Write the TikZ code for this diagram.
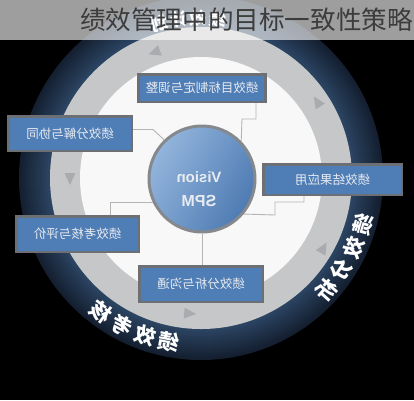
\documentclass[tikz,border=0pt]{standalone}
\usepackage{fontspec}
\usepackage{graphicx}
\newfontfamily\cjk{Noto Sans CJK SC}
\newfontfamily\arial{Liberation Sans}
\usetikzlibrary{calc}
\definecolor{navyin}{HTML}{2C4563}
\definecolor{navyout}{HTML}{141F30}
\definecolor{ringgray}{HTML}{C6C7C9}
\definecolor{tri}{HTML}{A9ABAE}
\definecolor{boxfill}{HTML}{4F7EB6}
\definecolor{boxline}{HTML}{6C7075}
\definecolor{connc}{HTML}{B4B4B4}
\definecolor{circlight}{HTML}{93B5DC}
\definecolor{circdark}{HTML}{4E7BB3}
\definecolor{circline}{HTML}{85888C}
\definecolor{titlec}{HTML}{3C3C3C}
\definecolor{boxtext}{HTML}{E8EBF0}
\definecolor{discwhite}{HTML}{F8F8F8}
\begin{document}
\begin{tikzpicture}[x=1pt,y=1pt,
  stagebox/.style={draw=boxline, line width=2.5pt, fill=boxfill, text=boxtext,
    font=\cjk\fontsize{12.5}{14}\selectfont, inner sep=0pt},
  conn/.style={draw=connc, line width=0.9pt},
  ringtxt/.style={text=white, font=\cjk\bfseries\fontsize{21}{23}\selectfont, inner sep=0pt},
  vtext/.style={text=boxtext, font=\arial\bfseries\fontsize{15}{17}\selectfont, inner sep=0pt}]
\fill[black] (0,0) rectangle (414,-400);
\useasboundingbox (0,0) rectangle (414,-400);
\coordinate (O) at (201,-178);
% navy ring, darker towards the outside
\foreach \k in {0,...,15} {
  \pgfmathsetmacro{\rr}{182-\k*2}
  \pgfmathsetmacro{\pc}{100*\k/15}
  \fill[navyin!\pc!navyout] (O) circle (\rr);
}
\fill[ringgray] (O) circle (151);
\fill[discwhite] (O) circle (121);
% direction triangles in the grey ring
\foreach \a/\r in {110/134, 180/131, 265/136, 33/139, -30/141}
  \fill[tri, shift={(201,-178)}, rotate=\a] (\r,7) -- (\r-5.5,-5) -- (\r+5.5,-5) -- cycle;
% centre circle
\node[circle, minimum size=106, draw=circline, line width=3pt,
  left color=circlight, right color=circdark, shading angle=60] (vis) at (202,-179) {};
\node[vtext] (vtxt) at (199,-177) {\reflectbox{Vision}};
\node[vtext, font=\arial\bfseries\fontsize{16}{18}\selectfont] (stxt) at (199,-201) {\reflectbox{SPM}};
% boxes
\node[stagebox, minimum width=127, minimum height=27.5] (t) at (202,-88) {\reflectbox{绩效目标制定与调整}};
\node[stagebox, minimum width=123.5, minimum height=34.5] (lu) at (70,-133.5) {\reflectbox{绩效分解与协同}};
\node[stagebox, minimum width=138.5, minimum height=30.5] (rb) at (332.5,-179.5) {\reflectbox{绩效结果应用}};
\node[stagebox, minimum width=122.5, minimum height=35.5] (ll) at (77.5,-234) {\reflectbox{绩效考核与评价}};
\node[stagebox, minimum width=123.5, minimum height=35.5] (bb) at (201,-284) {\reflectbox{绩效分析与沟通}};
% connectors
\draw[conn] ([yshift=4pt]lu.east) -- ++(20,0) -- (vis.134);
\draw[conn] ([xshift=54pt]t.south) -- ++(0,-16) -- ++(-14,0) -- (vis.44);
\draw[conn] ([xshift=-28.5pt]rb.south) -- ++(0,-6) -- ++(-29,0) -- ++(0,-13) -- (vis.-40);
\draw[conn] ([xshift=32.5pt]ll.north) |- (vis.205);
\draw[conn] (bb.north -| vis.south) -- (vis.south);
% ring labels
\foreach \c [count=\i] in {绩,效,分,析}
  \node[ringtxt, rotate={-16-(\i-1)*8.6+90}] (ra\i) at ($(O)+({-16-(\i-1)*8.6}:168)$) {\reflectbox{\c}};
\foreach \c [count=\i] in {绩,效,考,核}
  \node[ringtxt, rotate={-101-(\i-1)*8.6+90}] (rc\i) at ($(O)+({-101-(\i-1)*8.6}:167)$) {\reflectbox{\c}};
\foreach \c [count=\i] in {绩,效,计,划}
  \node[ringtxt, font=\cjk\bfseries\fontsize{17}{19}\selectfont, rotate={84+(\i-1)*7-90}] (rt\i) at ($(O)+({84+(\i-1)*7}:160)$) {\reflectbox{\c}};
% title band
\fill[white, opacity=0.62] (0,0) rectangle (414,-40);
\node[anchor=east, inner sep=0pt, text=titlec, font=\cjk\fontsize{25.6}{28}\selectfont] (title) at (413,-20) {绩效管理中的目标一致性策略};
\end{tikzpicture}
\end{document}
